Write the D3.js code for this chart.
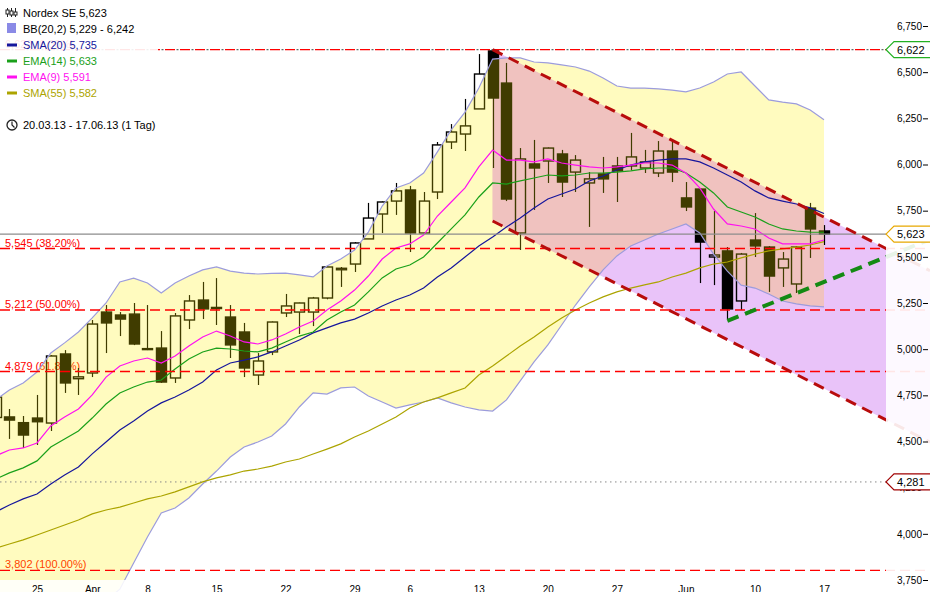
<!DOCTYPE html>
<html>
<head>
<meta charset="utf-8">
<script src="https://cdn.jsdelivr.net/npm/d3@7"></script>
<style>
  body { margin: 0; background: #fff; }
  svg { display: block; font-family: "Liberation Sans", Arial, sans-serif; }
</style>
</head>
<body>
<svg id="chart" width="930" height="592"></svg>
<script>
// trading days shown (Xetra, 20.03.13 - 17.06.13)
var dates = ["20.03","21.03","22.03","25.03","26.03","27.03","28.03","02.04","03.04","04.04",
  "05.04","08.04","09.04","10.04","11.04","12.04","15.04","16.04","17.04","18.04",
  "19.04","22.04","23.04","24.04","25.04","26.04","29.04","30.04","02.05","03.05",
  "06.05","07.05","08.05","09.05","10.05","13.05","14.05","15.05","16.05","17.05",
  "20.05","21.05","22.05","23.05","24.05","27.05","28.05","29.05","30.05","31.05",
  "03.06","04.06","05.06","06.06","07.06","10.06","11.06","12.06","13.06","14.06","17.06"];

var opens = [4630,4633,4602,4627,4600,4974,4840,4871,5201,5185,
  5190,4998,5006,4844,5158,5266,5220,5174,5093,4860,
  4985,5196,5201,5201,5277,5430,5461,5597,5732,5802,
  5862,5629,5851,6122,6165,6301,6615,6441,5629,6003,
  6019,6057,5959,5900,5949,5992,5992,5981,5954,6073,
  5819,5867,5499,5532,5261,5591,5553,5440,5353,5764,5640];
var highs = [4745,4676,4638,4752,4968,4995,4898,5158,5239,5201,
  5250,5239,5098,5196,5293,5364,5385,5239,5142,4979,
  5150,5299,5252,5283,5450,5445,5580,5792,5800,5900,
  5884,5851,6122,6219,6355,6598,6622,6550,6089,6133,
  6092,6079,6051,5959,6041,6041,6171,6079,6127,6122,
  5905,5870,5748,5553,5521,5737,5558,5526,5558,5792,5672];
var lows = [4610,4514,4465,4481,4557,4763,4752,4849,4979,5071,
  5022,4995,4817,4817,5109,5163,5131,4952,4849,4806,
  4968,5174,5082,5125,5270,5337,5418,5597,5629,5727,
  5526,5625,5813,6084,6073,6301,5981,5802,5537,5754,
  5900,5824,5851,5662,5846,5797,5970,5954,5932,5905,
  5748,5358,5347,5163,5212,5499,5310,5337,5304,5494,5564];
var closes = [4740,4616,4535,4607,4963,4817,4850,5136,5142,5163,
  5028,5003,4822,5180,5261,5218,5226,5023,4898,4936,
  5147,5234,5250,5277,5445,5438,5575,5710,5797,5857,
  5629,5802,6106,6176,6209,6490,6360,5813,6030,5981,
  6089,5905,6024,5922,5922,5965,6041,6014,6073,5959,
  5770,5580,5510,5218,5515,5559,5396,5488,5553,5651,5623];

var bbUpper = [4725,4779,4817,4876,4979,5034,5093,5169,5250,5364,
  5385,5358,5304,5358,5396,5429,5445,5423,5412,5407,
  5410,5412,5402,5391,5450,5488,5537,5634,5775,5873,
  5900,5954,6068,6187,6284,6414,6571,6577,6577,6555,
  6550,6539,6528,6506,6468,6425,6414,6414,6409,6403,
  6393,6414,6447,6490,6501,6425,6350,6338,6328,6295,6242];
var bbLower = [3500,3520,3530,3540,3560,3580,3600,3620,3640,3700,
  3842,3983,4113,4140,4194,4270,4340,4416,4470,4497,
  4530,4595,4687,4763,4757,4790,4795,4746,4714,4681,
  4698,4714,4736,4709,4687,4671,4665,4725,4828,4931,
  5023,5131,5239,5337,5429,5505,5559,5591,5624,5651,
  5678,5629,5515,5423,5347,5331,5299,5261,5245,5234,5229];
var sma20 = [4118,4156,4189,4216,4270,4319,4362,4433,4497,4562,
  4611,4665,4709,4741,4779,4822,4887,4925,4941,4958,
  4985,5017,5050,5088,5115,5142,5163,5196,5234,5266,
  5293,5331,5391,5440,5499,5559,5607,5662,5710,5765,
  5813,5840,5867,5911,5938,5970,5997,6014,6024,6030,
  6030,6014,5981,5943,5905,5857,5819,5802,5786,5765,5735];
var ema14 = [4297,4330,4357,4395,4470,4514,4557,4627,4703,4763,
  4795,4822,4833,4893,4947,4985,5006,5001,4990,4985,
  5006,5039,5071,5093,5158,5201,5239,5310,5386,5434,
  5456,5499,5575,5651,5727,5824,5900,5894,5911,5927,
  5943,5938,5943,5954,5954,5959,5965,5976,5981,5981,
  5954,5905,5846,5770,5743,5716,5678,5651,5640,5634,5633];
var ema9 = [4422,4454,4465,4492,4584,4633,4676,4752,4849,4909,
  4936,4952,4925,4963,5017,5066,5098,5071,5039,5028,
  5050,5082,5120,5152,5212,5261,5320,5396,5488,5548,
  5570,5618,5721,5797,5873,5987,6078,6024,6024,6014,
  6030,6008,5997,5987,5981,5987,5997,6008,6008,5997,
  5954,5873,5759,5678,5667,5651,5602,5570,5570,5570,5591];
var sma55 = [3923,3945,3967,3994,4021,4048,4075,4108,4129,4145,
  4167,4189,4205,4227,4254,4281,4303,4319,4340,4351,
  4367,4389,4405,4432,4459,4487,4524,4557,4595,4633,
  4681,4714,4736,4763,4790,4860,4909,4963,5017,5066,
  5120,5169,5212,5250,5283,5310,5331,5348,5364,5391,
  5412,5440,5461,5472,5494,5515,5532,5543,5553,5564,5582];

var tickDates = ["25.03","02.04","08.04","15.04","22.04","29.04","06.05","13.05","20.05","27.05","03.06","10.06","17.06"];
var tickLabels = ["25","Apr","8","15","22","29","6","13","20","27","Jun","10","17"];
var priceTicks = [3750,4000,4250,4500,4750,5000,5250,5500,5750,6000,6250,6500,6750];

var fibLevels = [6622, 5545, 5212, 4879, 3802];
var fibPct = ["0.00%", "38.20%", "50.00%", "61.80%", "100.00%"];

// trend channel (day index, value) and support line
var channelIdx = [36, 64.5];
var channelUpper = [6622, 5545];
var channelLower = [5694, 4617];
var supportIdx = [53, 64.5];
var supportVal = [5153, 5499];

var lastPrice = 5623, periodHigh = 6622, periodLow = 4281;

var W = 930, H = 592, plotRight = 886, plotBottom = 580;
var x = d3.scaleLinear().domain([3, 60]).range([37, 824]);
var y = d3.scaleLinear().domain([3750, 6750]).range([580, 26]);
var fmt = d3.format(",");
var xEdge = x.invert(W);

function lerp(ix, v, i) {
    return v[0] + (i - ix[0]) * (v[1] - v[0]) / (ix[1] - ix[0]);
}

var svg = d3.select("#chart");
svg.append("rect").attr("width", W).attr("height", H).attr("fill", "#fff");

var bbArea = d3.area()
    .x(function (d, i) { return x(i); })
    .y0(function (d, i) { return y(bbLower[i]); })
    .y1(function (d, i) { return y(bbUpper[i]); });

svg.append("defs").append("clipPath").attr("id", "bbClip")
    .append("path").datum(dates).attr("d", bbArea);

// channel fill; the part inside the band gets a pinker tint
var channelD = d3.line()([
    [x(channelIdx[0]), y(channelUpper[0])],
    [W, y(lerp(channelIdx, channelUpper, xEdge))],
    [W, y(lerp(channelIdx, channelLower, xEdge))],
    [x(channelIdx[0]), y(channelLower[0])]
]) + "Z";
svg.append("path").attr("d", channelD).attr("fill", "#e9c3f9");
svg.append("path").attr("d", channelD).attr("fill", "#ebb3ff").attr("clip-path", "url(#bbClip)");

// fibonacci labels (sit under the candles)
svg.append("g").selectAll("text")
    .data(fibLevels)
    .enter().append("text")
    .attr("x", 5)
    .attr("y", function (d) { return y(d) - 2; })
    .attr("fill", "#ff0000")
    .style("font-size", "11px")
    .text(function (d, i) { return fmt(d) + " (" + fibPct[i] + ")"; });

// candles
var cw = 5;
var candles = svg.append("g").selectAll("g")
    .data(dates)
    .enter().append("g");
candles.each(function (d, i) {
    var g = d3.select(this);
    var cx = Math.round(x(i)) + 0.5;
    var top = Math.max(opens[i], closes[i]), bot = Math.min(opens[i], closes[i]);
    g.append("line").attr("x1", cx).attr("x2", cx)
        .attr("y1", y(highs[i])).attr("y2", y(top))
        .attr("stroke", "#000").attr("stroke-width", 1.2);
    g.append("line").attr("x1", cx).attr("x2", cx)
        .attr("y1", y(bot)).attr("y2", y(lows[i]))
        .attr("stroke", "#000").attr("stroke-width", 1.2);
    var up = closes[i] >= opens[i];
    g.append("rect")
        .attr("x", cx - cw).attr("width", cw * 2)
        .attr("y", y(top)).attr("height", Math.max(1, y(bot) - y(top)))
        .attr("fill", up ? "none" : "#000")
        .attr("stroke", "#000").attr("stroke-width", 1.4);
});

// bollinger band fill, drawn over the candles
svg.append("path")
    .datum(dates)
    .attr("d", bbArea)
    .attr("fill", "#fff000")
    .attr("fill-opacity", 0.25);

function drawLine(arr, color, w) {
    svg.append("path")
        .datum(arr)
        .attr("d", d3.line().x(function (d, i) { return x(i); }).y(function (d) { return y(d); }))
        .attr("fill", "none")
        .attr("stroke", color)
        .attr("stroke-width", w);
}
drawLine(bbUpper, "#9c9cdc", 1.2);
drawLine(bbLower, "#9c9cdc", 1.2);
drawLine(sma55, "#aca400", 1.2);
drawLine(sma20, "#16169c", 1.2);
drawLine(ema14, "#1aa01a", 1.2);
drawLine(ema9, "#ff10f0", 1.2);

// horizontal levels
svg.append("line").attr("x1", 0).attr("x2", plotRight)
    .attr("y1", y(lastPrice)).attr("y2", y(lastPrice))
    .attr("stroke", "#8c8c8c").attr("stroke-width", 1.2);
svg.append("line").attr("x1", 0).attr("x2", plotRight)
    .attr("y1", y(periodLow)).attr("y2", y(periodLow))
    .attr("stroke", "#888").attr("stroke-dasharray", "1.5,3.5");
svg.append("line").attr("x1", 0).attr("x2", plotRight)
    .attr("y1", y(periodHigh)).attr("y2", y(periodHigh))
    .attr("stroke", "#666").attr("stroke-width", 1.2)
    .attr("stroke-dasharray", "2,13").attr("stroke-dashoffset", -11.5);
svg.append("g").selectAll("line")
    .data(fibLevels)
    .enter().append("line")
    .attr("x1", 0).attr("x2", W)
    .attr("y1", function (d) { return y(d); })
    .attr("y2", function (d) { return y(d); })
    .attr("stroke", "#ff0000")
    .attr("stroke-width", 1.4)
    .attr("stroke-dasharray", "10,5");

// channel borders and support line
function trendLine(ix, vals, color, w, dash) {
    svg.append("line")
        .attr("x1", x(ix[0])).attr("y1", y(vals[0]))
        .attr("x2", W).attr("y2", y(lerp(ix, vals, xEdge)))
        .attr("stroke", color).attr("stroke-width", w)
        .attr("stroke-dasharray", dash);
}
trendLine(channelIdx, channelUpper, "#b80c0c", 3, "11,7");
trendLine(channelIdx, channelLower, "#b80c0c", 3, "11,7");
trendLine(supportIdx, supportVal, "#148a14", 4, "12,7");

// axis areas fade what runs under them
svg.append("rect").attr("x", plotRight).attr("y", 0)
    .attr("width", W - plotRight).attr("height", H)
    .attr("fill", "#fff").attr("opacity", 0.9);
svg.append("rect").attr("x", 0).attr("y", plotBottom)
    .attr("width", plotRight).attr("height", H - plotBottom)
    .attr("fill", "#fff").attr("opacity", 0.88);

// price axis
var yAxis = svg.append("g")
    .attr("transform", "translate(928,0)")
    .call(d3.axisLeft(y).tickValues(priceTicks).tickSize(5).tickPadding(1).tickFormat(fmt));
yAxis.select(".domain").remove();
yAxis.attr("font-family", null).attr("font-size", null);
yAxis.selectAll("text").style("font-size", "10px").attr("fill", "#000");
yAxis.selectAll("line").attr("stroke", "#000");

// date axis
var tickIdx = tickDates.map(function (d) { return dates.indexOf(d); });
var xAxis = svg.append("g")
    .attr("transform", "translate(0," + 583 + ")")
    .call(d3.axisBottom(x).tickValues(tickIdx).tickSize(0).tickPadding(3)
        .tickFormat(function (d, i) { return tickLabels[i]; }));
xAxis.select(".domain").remove();
xAxis.attr("font-family", null).attr("font-size", null);
xAxis.selectAll("text").style("font-size", "10px").attr("fill", "#000");

// value boxes on the price axis
var boxes = [[periodHigh, "#22b022"], [lastPrice, "#e8a800"], [periodLow, "#a00000"]];
boxes.forEach(function (b) {
    var cy = y(b[0]);
    svg.append("path")
        .attr("d", "M" + plotRight + "," + cy + "L" + (plotRight + 8) + "," + (cy - 8) +
            "L" + (W + 2) + "," + (cy - 8) + "L" + (W + 2) + "," + (cy + 8) +
            "L" + (plotRight + 8) + "," + (cy + 8) + "Z")
        .attr("fill", "#fff").attr("stroke", b[1]).attr("stroke-width", 1.2);
    svg.append("text")
        .attr("x", 897).attr("y", cy + 4)
        .style("font-size", "11px").attr("fill", "#000")
        .text(fmt(b[0]));
});

// legend
svg.append("rect").attr("x", 0).attr("y", 0).attr("width", 158).attr("height", 136)
    .attr("fill", "#fff").attr("opacity", 0.9);
var last = closes.length - 1;
var legendRows = [
    { text: "Nordex SE " + fmt(closes[last]), color: "#000", icon: "candle" },
    { text: "BB(20,2) " + fmt(bbLower[last]) + " - " + fmt(bbUpper[last]), color: "#000", icon: "box" },
    { text: "SMA(20) " + fmt(sma20[last]), color: "#16169c", icon: "line" },
    { text: "EMA(14) " + fmt(ema14[last]), color: "#1aa01a", icon: "line" },
    { text: "EMA(9) " + fmt(ema9[last]), color: "#ff10f0", icon: "line" },
    { text: "SMA(55) " + fmt(sma55[last]), color: "#aca400", icon: "line" }
];
var lg = svg.append("g");
legendRows.forEach(function (r, i) {
    var base = 17 + i * 16;
    lg.append("text").attr("x", 23).attr("y", base)
        .style("font-size", "11px").attr("fill", r.color).text(r.text);
    if (r.icon === "line") {
        lg.append("line").attr("x1", 7).attr("x2", 17)
            .attr("y1", base - 4).attr("y2", base - 4)
            .attr("stroke", r.color).attr("stroke-width", 3);
    } else if (r.icon === "box") {
        lg.append("rect").attr("x", 7).attr("y", base - 10).attr("width", 9).attr("height", 10)
            .attr("fill", "#8a8ae6");
    } else {
        [[7, 10, 14], [11, 11, 15], [15, 12, 15]].forEach(function (c) {
            lg.append("line").attr("x1", c[0] + 0.5).attr("x2", c[0] + 0.5)
                .attr("y1", base - 9).attr("y2", base)
                .attr("stroke", "#222").attr("stroke-width", 1);
            lg.append("rect").attr("x", c[0] - 1).attr("y", c[1]).attr("width", 3)
                .attr("height", c[2] - c[1]).attr("fill", "#fff")
                .attr("stroke", "#222").attr("stroke-width", 1);
        });
    }
});
lg.append("circle").attr("cx", 12).attr("cy", 125).attr("r", 5)
    .attr("fill", "none").attr("stroke", "#222").attr("stroke-width", 1.3);
lg.append("path").attr("d", "M12,121.5V125L14.5,127.5")
    .attr("fill", "none").attr("stroke", "#222").attr("stroke-width", 1.2);
lg.append("text").attr("x", 23).attr("y", 129)
    .style("font-size", "11px").attr("fill", "#000")
    .text(dates[0] + ".13 - " + dates[last] + ".13 (1 Tag)");
</script>
</body>
</html>
